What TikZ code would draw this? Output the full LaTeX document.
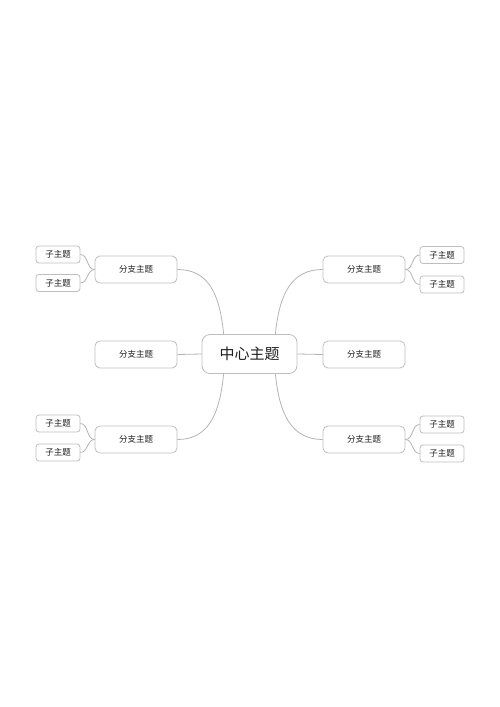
\documentclass[tikz,border=0pt]{standalone}
\usepackage{fontspec}
\newfontfamily\cjk{Noto Sans CJK SC}
\usetikzlibrary{calc}
\definecolor{linegray}{RGB}{180,180,180}
\definecolor{boxgray}{RGB}{190,190,190}
\definecolor{textgray}{RGB}{30,30,30}
\tikzstyle{centertopic}=[draw=boxgray,text=textgray,line width=0.8pt,rounded corners=8pt,minimum width=95pt,minimum height=39pt,font=\cjk\fontsize{15}{15}\selectfont]
\tikzstyle{branchtopic}=[draw=boxgray,text=textgray,line width=0.8pt,rounded corners=5pt,minimum width=82pt,minimum height=27pt,font=\cjk\fontsize{8.5}{9}\selectfont]
\tikzstyle{subtopic}=[draw=boxgray,text=textgray,line width=0.8pt,rounded corners=3pt,minimum width=44pt,minimum height=17pt,inner sep=0pt,font=\cjk\fontsize{8.5}{9}\selectfont]
\tikzstyle{branchline}=[draw=linegray,line width=0.8pt]

\begin{document}
\begin{tikzpicture}[x=1pt,y=-1pt]
  \useasboundingbox[fill=white] (0,0) rectangle (500,707);
  % centre and branches
  \node[centertopic] (c) at (249.5,354) {中心主题};
  \node[branchtopic] (bl1) at (136,269.5) {分支主题};
  \node[branchtopic] (bl2) at (136,354.5) {分支主题};
  \node[branchtopic] (bl3) at (136,439.5) {分支主题};
  \node[branchtopic] (br1) at (364,269.5) {分支主题};
  \node[branchtopic] (br2) at (364,354.5) {分支主题};
  \node[branchtopic] (br3) at (364,439.5) {分支主题};
  % sub topics
  \foreach \name/\x/\y in {sl1a/58/254.5, sl1b/58/283, sl3a/58/423.5, sl3b/58/452.5,
                            sr1a/442/255, sr1b/442/284.5, sr3a/442/424.5, sr3b/442/453.5}
    \node[subtopic] (\name) at (\x,\y) {子主题};
  % centre to branches
  \draw[branchline] ([xshift=22pt]c.north west) .. controls +(-4,-42) and +(30,0) .. (bl1.east);
  \draw[branchline] ([xshift=-22pt]c.north east) .. controls +(4,-42) and +(-30,0) .. (br1.west);
  \draw[branchline] ([xshift=22pt]c.south west) .. controls +(-4,42) and +(30,0) .. (bl3.east);
  \draw[branchline] ([xshift=-22pt]c.south east) .. controls +(4,42) and +(-30,0) .. (br3.west);
  \draw[branchline] (c.west) -- (bl2.east);
  \draw[branchline] (c.east) -- (br2.west);
  % branches to sub topics
  \foreach \b/\s in {bl1/sl1a, bl1/sl1b, bl3/sl3a, bl3/sl3b}
    \draw[branchline] (\b.west) to[out=180,in=0] (\s.east);
  \foreach \b/\s in {br1/sr1a, br1/sr1b, br3/sr3a, br3/sr3b}
    \draw[branchline] (\b.east) to[out=0,in=180] (\s.west);
\end{tikzpicture}
\end{document}
